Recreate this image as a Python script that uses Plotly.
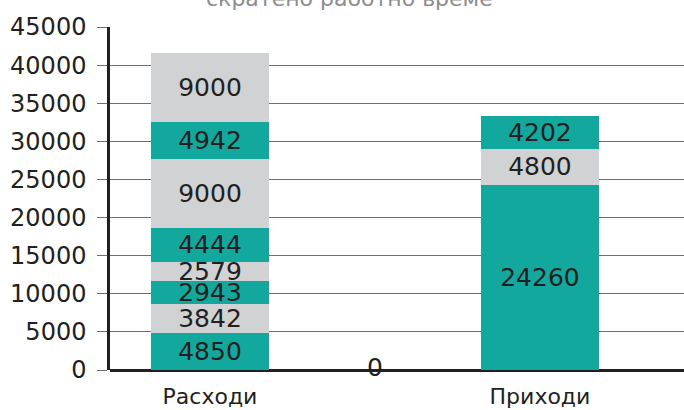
import plotly.graph_objects as go

# Categories on the x axis (the middle one carries only a zero value)
categories = ["Расходи", " ", "Приходи"]

# Stacked segment values, bottom to top, per category
level_1 = [4850, 0, 24260]
level_2 = [3842, None, 4800]
level_3 = [2943, None, 4202]
level_4 = [2579, None, None]
level_5 = [4444, None, None]
level_6 = [9000, None, None]
level_7 = [4942, None, None]
level_8 = [9000, None, None]

levels = [level_1, level_2, level_3, level_4, level_5, level_6, level_7, level_8]

y_ticks = [0, 5000, 10000, 15000, 20000, 25000, 30000, 35000, 40000, 45000]

TEAL = "#13a89e"
GREY = "#d1d2d4"
INK = "#231f20"
FONT = "DejaVu Sans"

fig = go.Figure()

for i, vals in enumerate(levels):
    colour = TEAL if i % 2 == 0 else GREY
    fig.add_trace(go.Bar(
        x=categories,
        y=vals,
        marker=dict(color=colour, line=dict(width=0)),
        text=[("" if v in (None, 0) else str(v)) for v in vals],
        textposition="inside",
        insidetextanchor="middle",
        textangle=0,
        constraintext="none",
        textfont=dict(family=FONT, size=25, color=INK),
        width=0.71,
        showlegend=False,
        hoverinfo="skip",
        cliponaxis=False,
    ))

# Label for the zero-valued middle category, sitting on the baseline
fig.add_trace(go.Scatter(
    x=[categories[1]],
    y=[level_1[1]],
    mode="text",
    text=[str(level_1[1])],
    textposition="middle center",
    textfont=dict(family=FONT, size=25, color=INK),
    showlegend=False,
    hoverinfo="skip",
    cliponaxis=False,
))

fig.add_annotation(
    text="скратено работно време",
    xref="paper", yref="paper",
    x=0.418, y=1.04,
    xanchor="center", yanchor="bottom",
    showarrow=False,
    font=dict(family=FONT, size=22, color="#8c8c8c"),
)

fig.update_layout(
    barmode="stack",
    width=684, height=410,
    margin=dict(l=110, r=0, t=27, b=40),
    paper_bgcolor="white",
    plot_bgcolor="white",
    font=dict(family=FONT, color=INK),
)

fig.update_xaxes(
    type="category",
    range=[-0.606, 2.873],
    showgrid=False,
    showline=False,
    ticks="",
    tickfont=dict(family=FONT, size=22, color=INK),
    ticklabelstandoff=11,
)

fig.update_yaxes(
    range=[0, 45000],
    tickvals=y_ticks,
    ticktext=[str(t) for t in y_ticks],
    showgrid=True,
    gridcolor="#6e6e6e",
    gridwidth=1,
    zeroline=True,
    zerolinecolor=INK,
    zerolinewidth=2.5,
    showline=True,
    linecolor=INK,
    linewidth=2.5,
    ticks="outside",
    ticklen=10,
    tickcolor="#6e6e6e",
    tickwidth=1,
    tickfont=dict(family=FONT, size=24, color=INK),
    ticklabelstandoff=6,
)

fig.write_html("out.html")
